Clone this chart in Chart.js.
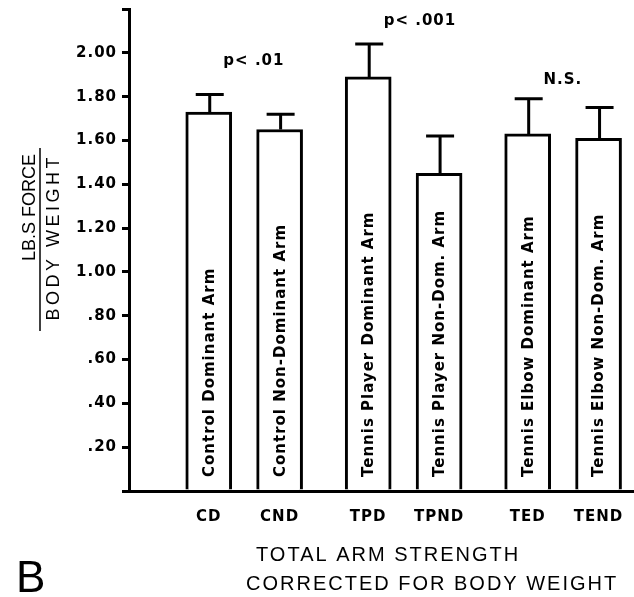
<!DOCTYPE html>
<html><head><meta charset="utf-8">
<script src="https://cdn.jsdelivr.net/npm/chart.js@4/dist/chart.umd.min.js"></script>
<style>html,body{margin:0;padding:0;background:#fff;} #wrap{width:634px;height:597px;position:relative;}</style>
</head><body><div id="wrap"><canvas id="c" width="634" height="597"></canvas></div>
<script>
// ---- data ----
const groups = ['Control', 'Tennis Player', 'Tennis Elbow'];
const codes = ['CD', 'CND', 'TPD', 'TPND', 'TED', 'TEND'];
const barLabels = ['Control Dominant Arm', 'Control Non-Dominant Arm', 'Tennis Player Dominant Arm',
  'Tennis Player Non-Dom. Arm', 'Tennis Elbow Dominant Arm', 'Tennis Elbow Non-Dom. Arm'];
const means = [1.73, 1.65, 1.89, 1.45, 1.63, 1.61];
const sds = [0.08, 0.07, 0.15, 0.17, 0.16, 0.14];
const pLabels = ['p< .01', 'p< .001', 'N.S.'];
const yTickValues = [0, 0.2, 0.4, 0.6, 0.8, 1.0, 1.2, 1.4, 1.6, 1.8, 2.0, 2.2];
const yTickLabels = ['', '.20', '.40', '.60', '.80', '1.00', '1.20', '1.40', '1.60', '1.80', '2.00', ''];
const yTitleTop = 'LB.S FORCE';
const yTitleBottom = 'BODY WEIGHT';
const xTitleLines = ['TOTAL ARM STRENGTH', 'CORRECTED FOR BODY WEIGHT'];
const panelLetter = 'B';

// ---- layout (not data) ----
const GROUP_STEP = 9, ARM_STEP = 4;
const xPos = codes.map((c, i) => Math.floor(i / 2) * GROUP_STEP + (i % 2) * ARM_STEP);
const pAnchors = [{x: 2.55, y: 1.96}, {x: 11.92, y: 2.147}, {x: 19.99, y: 1.877}];

const BOLD = 'bold 15px "DejaVu Sans"';

const overlay = {
  id: 'overlay',
  afterDatasetsDraw(chart) {
    const ctx = chart.ctx;
    const xs = chart.scales.x, ys = chart.scales.y;
    const meta = chart.getDatasetMeta(0);
    ctx.save();
    ctx.strokeStyle = '#000';
    ctx.lineWidth = 3;
    meta.data.forEach((bar, i) => {
      const x = bar.x;
      const yTop = ys.getPixelForValue(means[i]);
      const yErr = ys.getPixelForValue(means[i] + sds[i]);
      ctx.beginPath();
      ctx.moveTo(x + 1, yTop);
      ctx.lineTo(x + 1, yErr);
      ctx.moveTo(x + 1 - 14, yErr);
      ctx.lineTo(x + 1 + 14, yErr);
      ctx.stroke();
      // label inside the bar
      ctx.save();
      ctx.translate(x, ys.getPixelForValue(0) - 14);
      ctx.rotate(-Math.PI / 2);
      ctx.font = BOLD;
      ctx.letterSpacing = '1px';
      ctx.fillStyle = '#000';
      ctx.textAlign = 'left';
      ctx.textBaseline = 'middle';
      ctx.fillText(barLabels[i], 0, 1);
      ctx.restore();
    });
    // p-value annotations
    ctx.font = BOLD;
    ctx.letterSpacing = '1px';
    ctx.fillStyle = '#000';
    ctx.textAlign = 'center';
    ctx.textBaseline = 'middle';
    pLabels.forEach((t, g) => {
      ctx.fillText(t, xs.getPixelForValue(pAnchors[g].x), ys.getPixelForValue(pAnchors[g].y));
    });
    ctx.restore();
  },
  afterDraw(chart) {
    const ctx = chart.ctx;
    ctx.save();
    ctx.fillStyle = '#000';
    ctx.strokeStyle = '#000';
    // y-axis title as fraction
    ctx.save();
    ctx.translate(35, 154);
    ctx.rotate(-Math.PI / 2);
    ctx.font = '18px "Liberation Sans"';
    ctx.textAlign = 'right';
    ctx.textBaseline = 'alphabetic';
    ctx.letterSpacing = '0px';
    ctx.fillText(yTitleTop, 0, 0);
    ctx.restore();
    ctx.save();
    ctx.translate(59, 154);
    ctx.rotate(-Math.PI / 2);
    ctx.font = '18px "Liberation Sans"';
    ctx.textAlign = 'right';
    ctx.textBaseline = 'alphabetic';
    ctx.letterSpacing = '3.5px';
    ctx.fillText(yTitleBottom, 0, 0);
    ctx.restore();
    ctx.lineWidth = 1.5;
    ctx.beginPath();
    ctx.moveTo(40, 148);
    ctx.lineTo(40, 331);
    ctx.stroke();
    // x-axis title
    ctx.font = '20px "Liberation Sans"';
    ctx.letterSpacing = '2px';
    ctx.textAlign = 'left';
    ctx.textBaseline = 'alphabetic';
    ctx.fillText(xTitleLines[0], 256, 561);
    ctx.fillText(xTitleLines[1], 246, 590);
    // panel letter
    ctx.letterSpacing = '0px';
    ctx.font = '44px "Liberation Sans"';
    ctx.fillText(panelLetter, 16, 592);
    ctx.restore();
  },
  beforeDraw(chart) { chart.ctx.letterSpacing = '1px'; }
};

new Chart(document.getElementById('c'), {
  type: 'bar',
  data: {
    datasets: [{
      data: means.map((m, i) => ({x: xPos[i], y: m})),
      backgroundColor: '#fff',
      borderColor: '#000',
      borderWidth: 3,
      barThickness: 46
    }]
  },
  options: {
    responsive: false,
    animation: false,
    events: [],
    layout: {padding: {top: 9, left: 0, right: 0, bottom: 0}},
    plugins: {legend: {display: false}, tooltip: {enabled: false}, title: {display: false}},
    scales: {
      x: {
        type: 'linear',
        offset: false,
        min: -4.5,
        max: 24,
        grid: {display: false, drawTicks: false, offset: false},
        border: {display: true, color: '#000', width: 3},
        afterBuildTicks: s => { s.ticks = xPos.map(v => ({value: v})); },
        afterFit: s => { s.height = 106; s.paddingLeft = 0; s.paddingRight = 0; },
        ticks: {
          autoSkip: false,
          maxRotation: 0,
          padding: 17,
          color: '#000',
          font: {family: 'DejaVu Sans', weight: 'bold', size: 15},
          callback: (v, i) => codes[i]
        }
      },
      y: {
        type: 'linear',
        min: 0,
        max: 2.2,
        grid: {display: true, drawOnChartArea: false, drawTicks: true, tickLength: 7, color: '#000', lineWidth: 3},
        border: {display: true, color: '#000', width: 3},
        afterBuildTicks: s => { s.ticks = yTickValues.map(v => ({value: v})); },
        afterFit: s => { s.width = 129; s.paddingTop = 0; s.paddingBottom = 0; },
        ticks: {
          autoSkip: false,
          padding: 5,
          color: '#000',
          font: {family: 'DejaVu Sans', weight: 'bold', size: 15},
          callback: (v, i) => yTickLabels[i]
        }
      }
    }
  },
  plugins: [overlay]
});
</script>
</body></html>
